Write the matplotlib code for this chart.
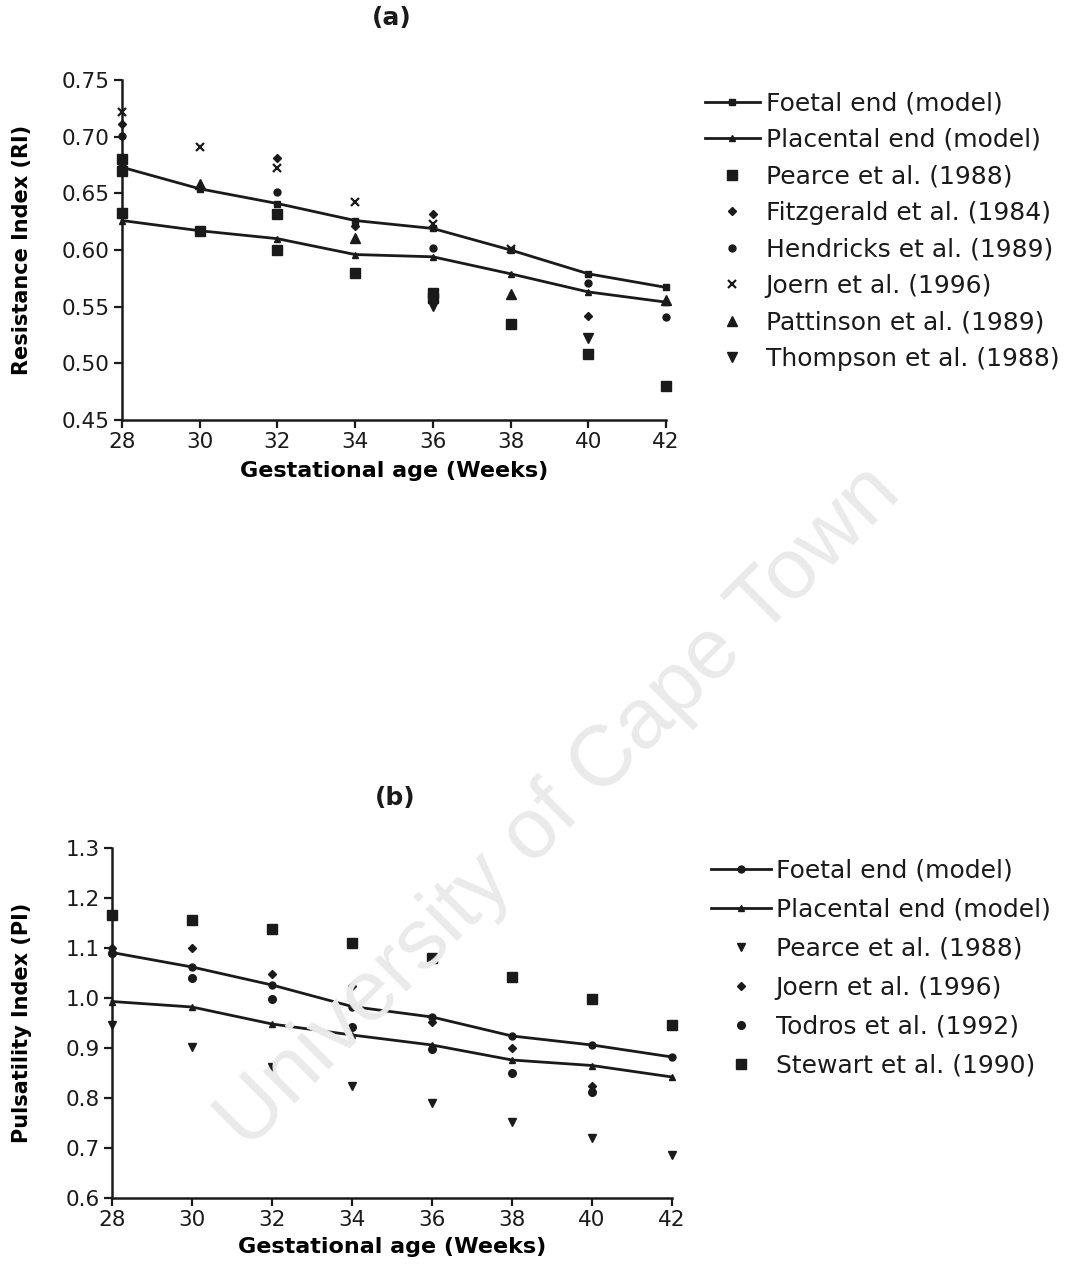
import matplotlib
matplotlib.use('Agg')
import matplotlib.pyplot as plt
import numpy as np

plt.rcParams['font.family'] = ['DejaVu Sans']

weeks = [28, 30, 32, 34, 36, 38, 40, 42]

# (a) resistance index
ri_foetal = [0.673, 0.654, 0.641, 0.626, 0.619, 0.600, 0.579, 0.567]
ri_placental = [0.626, 0.617, 0.610, 0.596, 0.594, 0.579, 0.563, 0.554]
ri_pearce = [0.633, 0.617, 0.600, 0.580, 0.558, 0.535, 0.508, 0.480]
ri_pearce_x2 = [28, 28, 32, 36]
ri_pearce_y2 = [0.680, 0.670, 0.632, 0.562]
ri_fitzgerald_x = [28, 32, 34, 36, 40]
ri_fitzgerald = [0.711, 0.681, 0.621, 0.632, 0.542]
ri_hendricks_x = [28, 32, 36, 40, 42]
ri_hendricks = [0.701, 0.651, 0.602, 0.571, 0.541]
ri_joern_x = [28, 30, 32, 34, 36, 38]
ri_joern = [0.722, 0.691, 0.672, 0.642, 0.623, 0.601]
ri_pattinson_x = [28, 30, 34, 38, 42]
ri_pattinson = [0.676, 0.658, 0.611, 0.561, 0.556]
ri_thompson_x = [36, 40]
ri_thompson = [0.551, 0.522]

# (b) pulsatility index
pi_foetal = [1.091, 1.062, 1.026, 0.983, 0.962, 0.924, 0.906, 0.882]
pi_placental = [0.993, 0.982, 0.948, 0.926, 0.906, 0.876, 0.865, 0.842]
pi_pearce = [0.946, 0.902, 0.862, 0.824, 0.790, 0.752, 0.720, 0.686]
pi_joern_x = [28, 30, 32, 34, 36, 38, 40]
pi_joern = [1.100, 1.100, 1.048, 1.024, 0.952, 0.900, 0.824]
pi_todros_x = [28, 30, 32, 34, 36, 38, 40]
pi_todros = [1.090, 1.040, 0.998, 0.942, 0.898, 0.850, 0.812]
pi_stewart = [1.166, 1.156, 1.138, 1.111, 1.080, 1.042, 0.998, 0.946]

ink = '#1a1a1a'
W, H = 1069, 1286
fig = plt.figure(figsize=(W / 100, H / 100), dpi=100)


def style_axes(ax, ylim, yticks, ylabel, yfmt, ylab_x, xlab_y):
    ax.set_xlim(28, 42)
    ax.set_ylim(*ylim)
    ax.set_xticks(weeks)
    ax.set_yticks(yticks)
    ax.set_yticklabels([yfmt.format(v) for v in yticks])
    for side in ('top', 'right'):
        ax.spines[side].set_visible(False)
    for side in ('left', 'bottom'):
        ax.spines[side].set_linewidth(1.8)
        ax.spines[side].set_color(ink)
    ax.tick_params(direction='out', length=6, width=1.6, colors=ink,
                   labelsize=15.5, pad=3)
    ax.set_xlabel('Gestational age (Weeks)', fontsize=16, fontweight='bold',
                  va='center')
    ax.set_ylabel(ylabel, fontsize=15, fontweight='bold', va='center')
    ax.xaxis.set_label_coords(0.5, xlab_y)
    ax.yaxis.set_label_coords(ylab_x, 0.5)


# ---- panel (a)
ax1 = fig.add_axes([122 / W, 1 - 420 / H, 544 / W, 340 / H])
ax1.plot(weeks, ri_foetal, '-', color=ink, lw=2, marker='s', ms=5,
         label='Foetal end (model)', clip_on=False)
ax1.plot(weeks, ri_placental, '-', color=ink, lw=2, marker='^', ms=5,
         label='Placental end (model)', clip_on=False)
ax1.plot(weeks, ri_pearce, 's', color=ink, ms=6.5, ls='none',
         label='Pearce et al. (1988)', clip_on=False)
ax1.plot(ri_pearce_x2, ri_pearce_y2, 's', color=ink, ms=6.5, ls='none',
         clip_on=False)
ax1.plot(ri_fitzgerald_x, ri_fitzgerald, 'D', color=ink, ms=4, ls='none',
         label='Fitzgerald et al. (1984)', clip_on=False)
ax1.plot(ri_hendricks_x, ri_hendricks, 'o', color=ink, ms=5, ls='none',
         label='Hendricks et al. (1989)', clip_on=False)
ax1.plot(ri_joern_x, ri_joern, 'x', color=ink, ms=5.5, mew=1.6, ls='none',
         label='Joern et al. (1996)', clip_on=False)
ax1.plot(ri_pattinson_x, ri_pattinson, '^', color=ink, ms=6.5, ls='none',
         label='Pattinson et al. (1989)', clip_on=False)
ax1.plot(ri_thompson_x, ri_thompson, 'v', color=ink, ms=6.5, ls='none',
         label='Thompson et al. (1988)', clip_on=False)
style_axes(ax1, (0.45, 0.75), np.arange(0.45, 0.751, 0.05),
           'Resistance Index (RI)', '{:.2f}', -0.184, -0.15)
ax1.legend(loc='upper left', bbox_to_anchor=(692 / W, 1 - 79 / H),
           bbox_transform=fig.transFigure, frameon=False, fontsize=18,
           handlelength=2.2, handletextpad=0.25, labelspacing=0.5,
           borderpad=0, labelcolor=ink)

# ---- panel (b)
ax2 = fig.add_axes([112 / W, 1 - 1198 / H, 560 / W, 350 / H])
ax2.plot(weeks, pi_foetal, '-', color=ink, lw=2, marker='o', ms=5,
         label='Foetal end (model)', clip_on=False)
ax2.plot(weeks, pi_placental, '-', color=ink, lw=2, marker='^', ms=4,
         label='Placental end (model)', clip_on=False)
ax2.plot(weeks, pi_pearce, 'v', color=ink, ms=5.5, ls='none',
         label='Pearce et al. (1988)', clip_on=False)
ax2.plot(pi_joern_x, pi_joern, 'D', color=ink, ms=4, ls='none',
         label='Joern et al. (1996)', clip_on=False)
ax2.plot(pi_todros_x, pi_todros, 'o', color=ink, ms=5.5, ls='none',
         label='Todros et al. (1992)', clip_on=False)
ax2.plot(weeks, pi_stewart, 's', color=ink, ms=6.5, ls='none',
         label='Stewart et al. (1990)', clip_on=False)
style_axes(ax2, (0.6, 1.3), np.arange(0.6, 1.301, 0.1),
           'Pulsatility Index (PI)', '{:.1f}', -0.161, -0.14)
ax2.legend(loc='upper left', bbox_to_anchor=(698 / W, 1 - 846 / H),
           bbox_transform=fig.transFigure, frameon=False, fontsize=18,
           handlelength=2.4, handletextpad=0.2, labelspacing=0.6,
           borderpad=0, labelcolor=ink)

# panel letters
fig.text(392 / W, 1 - 18 / H, '(a)', fontsize=18, fontweight='bold',
         ha='center', va='center', color=ink)
fig.text(395 / W, 1 - 798 / H, '(b)', fontsize=18, fontweight='bold',
         ha='center', va='center', color=ink)

# watermark across the page
fig.text(560 / W, 1 - 808 / H, 'University of Cape Town', fontsize=62,
         family='Liberation Sans', color='#eaeaea', rotation=45,
         ha='center', va='center', zorder=0)

fig.savefig('out.png', dpi=100)
